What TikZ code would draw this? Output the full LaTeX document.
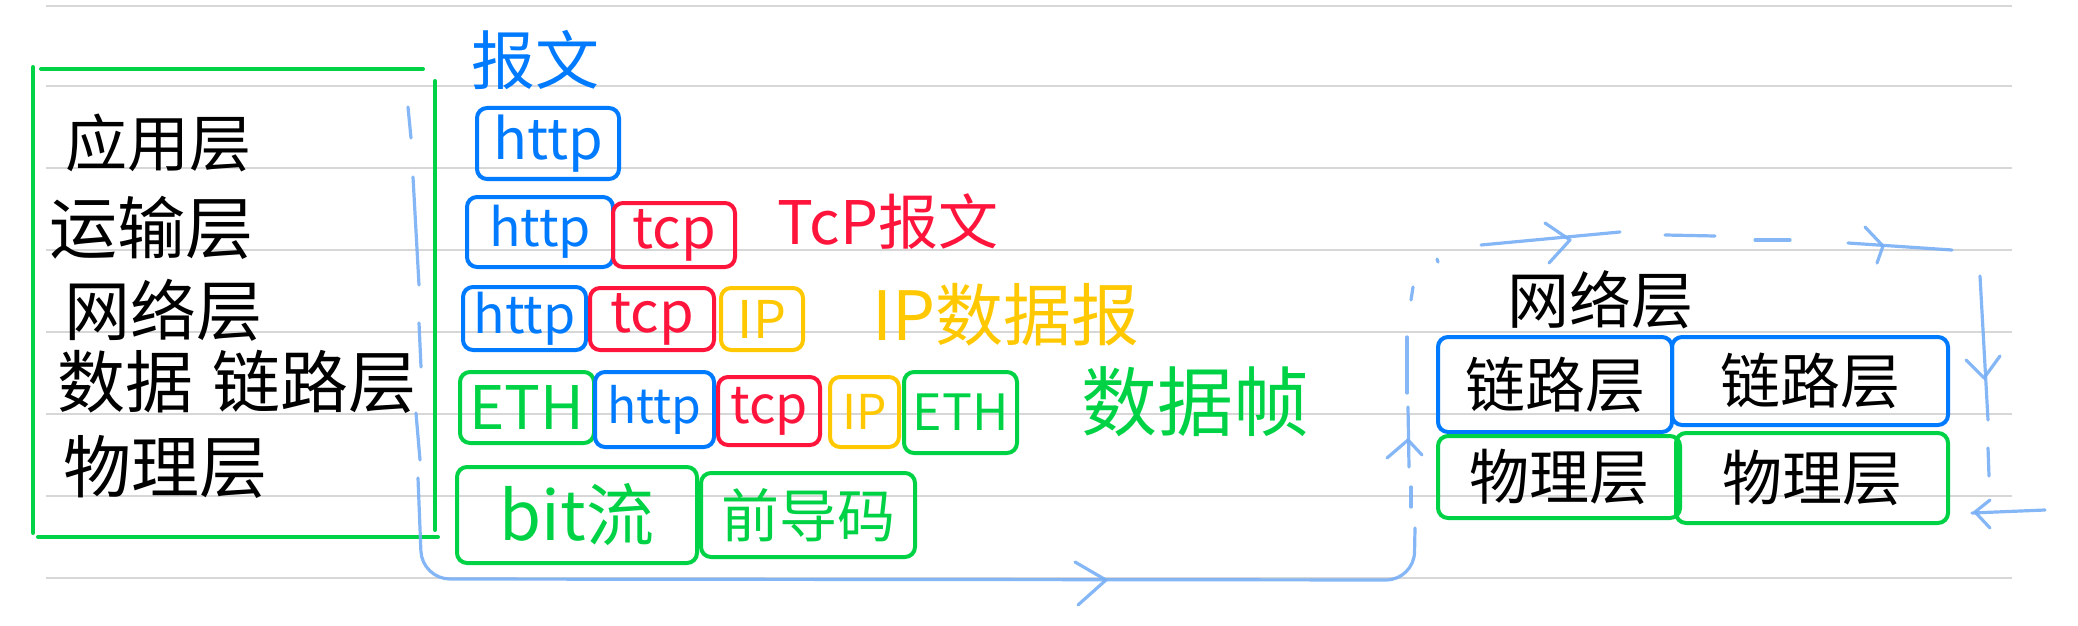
\documentclass[tikz,border=0pt]{standalone}
\usepackage{fontspec}
\setmainfont{Noto Sans CJK SC}
\definecolor{hblue}{RGB}{0,122,255}
\definecolor{hred}{RGB}{255,20,60}
\definecolor{hyel}{RGB}{255,200,0}
\definecolor{hgreen}{RGB}{0,210,70}
\definecolor{pencilc}{RGB}{120,175,245}
\definecolor{rulec}{RGB}{215,215,215}
\begin{document}
\begin{tikzpicture}[x=0.5pt,y=-0.5pt,
  pkt/.style={draw=#1, text=#1, line width=2pt, rounded corners=5pt, inner sep=0pt},
  fs/.style={font=\fontsize{#1}{#1}\selectfont},
  lbl/.style={inner sep=0pt},
  ruled/.style={draw=rulec, line width=0.6pt},
  frame/.style={draw=hgreen, line width=2pt, line cap=round},
  pencil/.style={draw=pencilc, line width=1.6pt, line cap=round, line join=round, opacity=0.9}]
\useasboundingbox (0,0) rectangle (2078,626);
% ruled paper lines
\foreach \yy in {6,86,168,250,332,414,496,578}
  \draw[ruled] (46,\yy) -- (2012,\yy);

% left frame
\draw[frame] (33,67) -- (33,533);
\draw[frame] (41,69) -- (423,69);
\draw[frame] (435,81) -- (435,530);
\draw[frame] (38,537) -- (438,537);

% layer names
\node[lbl,fs=31] (app) at (158,143) {应用层};
\node[lbl,fs=34] (tra) at (151,228) {运输层};
\node[lbl,fs=33] (net) at (163,310) {网络层};
\node[lbl,fs=34] (dl)  at (237,382) {数据\hspace{10pt}链路层};
\node[lbl,fs=34] (phy) at (165,467) {物理层};

% title
\node[lbl,fs=32,text=hblue] (msg) at (535,60) {报文};

% row 1
\node[pkt=hblue,fs=28,minimum width=71pt,minimum height=35.5pt] (r1http) at (548,143.5) {http};
% row 2
\node[pkt=hblue,fs=26,minimum width=73pt,minimum height=35pt] (r2http) at (540,232) {http};
\node[pkt=hred,fs=28,minimum width=61pt,minimum height=32pt] (r2tcp) at (674,235) {tcp};
\node[lbl,fs=30,text=hred] (r2lbl) at (888,222) {TcP报文};
% row 3
\node[pkt=hblue,fs=26,minimum width=61.5pt,minimum height=31.5pt] (r3http) at (524.5,318.5) {http};
\node[pkt=hred,fs=28,minimum width=62pt,minimum height=31pt] (r3tcp) at (652,319) {tcp};
\node[pkt=hyel,fs=26,minimum width=41pt,minimum height=31pt] (r3ip) at (762,319) {IP};
\node[lbl,fs=34,text=hyel] (r3lbl) at (1006,315) {IP数据报};
% row 4
\node[pkt=hgreen,fs=30,minimum width=67pt,minimum height=35.5pt] (r4eth) at (527,407.5) {ETH};
\node[pkt=hblue,fs=24,minimum width=59.5pt,minimum height=37.5pt] (r4http) at (654.5,409.5) {http};
\node[pkt=hred,fs=26,minimum width=51pt,minimum height=34pt] (r4tcp) at (769,411) {tcp};
\node[pkt=hyel,fs=24,minimum width=34.5pt,minimum height=35pt] (r4ip) at (864.5,412) {IP};
\node[pkt=hgreen,fs=25,minimum width=56.5pt,minimum height=40.5pt] (r4eth2) at (960.5,412.5) {ETH};
\node[lbl,fs=38,text=hgreen] (r4lbl) at (1195,402) {数据帧};
% row 5
\node[pkt=hgreen,fs=34,minimum width=120pt,minimum height=48pt] (r5bit) at (577,515) {bit流};
\node[pkt=hgreen,fs=29,minimum width=107pt,minimum height=42pt] (r5pre) at (808,515) {前导码};

% right side
\node[lbl,fs=31] (rnet) at (1600,300) {网络层};
\node[pkt=hblue,text=black,fs=30,minimum width=117pt,minimum height=47.5pt] (lk1) at (1555,384.5) {链路层};
\node[pkt=hblue,text=black,fs=30,minimum width=138pt,minimum height=44pt] (lk2) at (1810,381) {链路层};
\node[pkt=hgreen,text=black,fs=30,minimum width=121pt,minimum height=41pt] (ph1) at (1559,477) {物理层};
\node[pkt=hgreen,text=black,fs=30,minimum width=136pt,minimum height=45pt] (ph2) at (1812,478) {物理层};

% pencil route
\draw[pencil] (408,107) -- (411,138);
\draw[pencil] (413,177) -- (419,285);
\draw[pencil] (419,323) -- (421,367);
\draw[pencil] (416,413) -- (420,460);
\draw[pencil, rounded corners=14pt] (418,478) -- (422,579) -- (1414,580) -- (1415,528);
\draw[pencil] (1075,562) -- (1106,580) -- (1078,605);
\draw[pencil] (1411,507) -- (1411,487);
\draw[pencil] (1409,467) -- (1408,407);
\draw[pencil] (1407,393) -- (1407,337);
\draw[pencil] (1411,300) -- (1413,287);
\draw[pencil] (1437,259) -- (1438,262);
\draw[pencil] (1387,458) -- (1408,440) -- (1422,455);
\draw[pencil] (1481,245) -- (1620,232);
\draw[pencil] (1545,223) -- (1570,240) -- (1549,263);
\draw[pencil] (1665,235) -- (1715,236);
\draw[pencil] (1755,240) -- (1790,240);
\draw[pencil] (1848,243) -- (1952,250);
\draw[pencil] (1865,227) -- (1883,246) -- (1877,263);
\draw[pencil] (1980,276) -- (1988,420);
\draw[pencil] (1966,360) -- (1984,378) -- (2000,356);
\draw[pencil] (1988,448) -- (1989,476);
\draw[pencil] (2045,510) -- (1972,513);
\draw[pencil] (1990,500) -- (1975,512) -- (1990,528);
\end{tikzpicture}
\end{document}
